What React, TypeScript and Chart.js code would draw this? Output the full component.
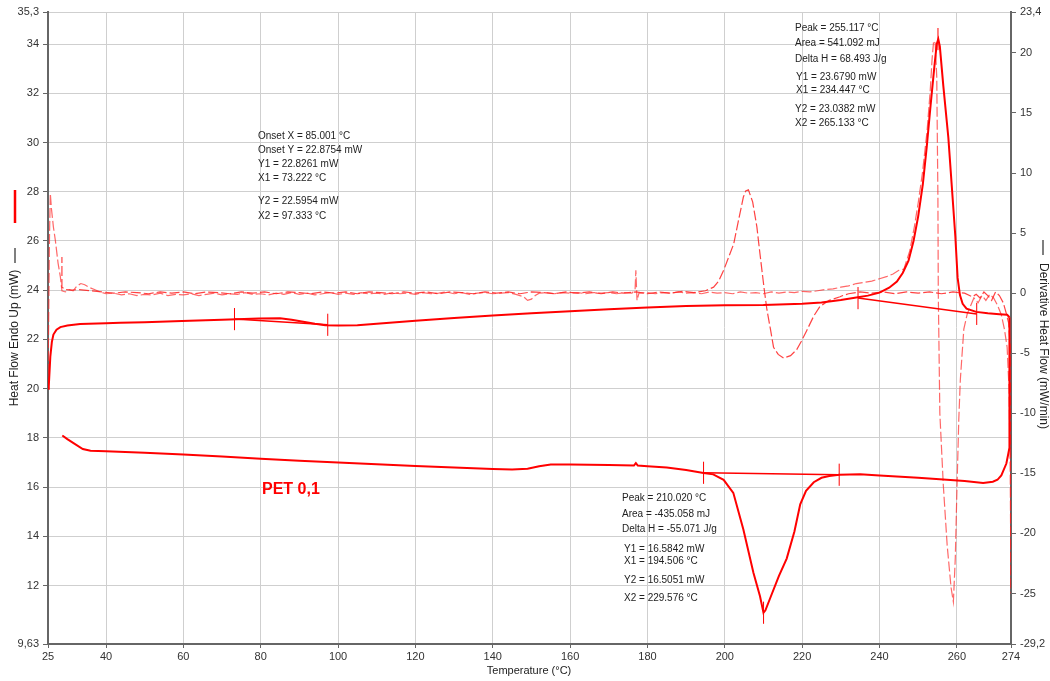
import React, { useEffect, useRef } from 'react';
import { Chart, registerables } from 'chart.js';
Chart.register(...registerables);

// ---------- axis ticks ----------
const xTicks = [25, 40, 60, 80, 100, 120, 140, 160, 180, 200, 220, 240, 260, 274];
const yLeftTicks = [9.63, 12, 14, 16, 18, 20, 22, 24, 26, 28, 30, 32, 34, 35.3];
const yRightTicks = [-29.2, -25, -20, -15, -10, -5, 0, 5, 10, 15, 20, 23.4];

// ---------- heat flow, heating (mW) ----------
const heatT = [25.0, 25.2, 25.6, 26.0, 26.4, 27.2, 28.2, 30, 33.3, 40, 43.7, 50, 59.6, 70, 79.5, 85, 88, 91, 94, 96.7, 100, 105, 110, 120, 130, 140, 150, 160, 170, 180, 190, 200, 210, 220, 225, 230, 234, 237, 240, 242.5, 244.5, 246, 247.5, 248.8, 250, 251.2, 252.2, 253.2, 254.2, 254.8, 255.2, 255.6, 256.5, 257.8, 258.7, 259.6, 260.2, 260.8, 261.5, 262.5, 265, 268, 271, 273, 273.6];
const heatMW = [20.0, 20.1, 21.3, 21.9, 22.2, 22.4, 22.5, 22.57, 22.63, 22.66, 22.68, 22.7, 22.75, 22.8, 22.85, 22.86, 22.8, 22.72, 22.64, 22.58, 22.57, 22.58, 22.64, 22.76, 22.87, 22.97, 23.06, 23.15, 23.23, 23.3, 23.36, 23.39, 23.4, 23.45, 23.5, 23.6, 23.7, 23.78, 23.9, 24.1, 24.35, 24.7, 25.2, 26.0, 27.0, 28.3, 29.8, 31.5, 33.1, 34.0, 34.2, 33.9, 32.3, 30.2, 28.2, 26.2, 24.5, 23.8, 23.45, 23.25, 23.12, 23.06, 23.02, 23.0, 22.9];

// ---------- heat flow, cooling (mW) ----------
const coolT = [273.6, 273.7, 273.5, 273.3, 272.8, 271.5, 270.5, 269.3, 266.8, 262, 256.5, 250, 240, 235, 229.6, 227, 225, 223, 221, 219.5, 218, 216, 214, 212, 210.5, 210, 209.1, 207.4, 204.8, 202.2, 199.7, 197, 194.5, 190, 185, 180, 177.5, 177, 176.5, 170, 160, 155, 152, 149, 145, 140, 130, 120, 110, 100, 90, 80, 70, 60, 50, 40, 36, 34, 32, 30, 28.7];
const coolMW = [22.9, 19.0, 17.6, 17.36, 16.96, 16.48, 16.3, 16.22, 16.17, 16.25, 16.31, 16.38, 16.47, 16.52, 16.5, 16.45, 16.38, 16.2, 15.85, 15.3, 14.2, 13.1, 12.4, 11.6, 11.0, 10.9, 11.57, 12.52, 14.28, 15.77, 16.3, 16.52, 16.58, 16.7, 16.8, 16.85, 16.88, 16.98, 16.88, 16.9, 16.92, 16.92, 16.85, 16.75, 16.72, 16.74, 16.8, 16.86, 16.93, 17.0, 17.07, 17.15, 17.25, 17.33, 17.4, 17.46, 17.48, 17.55, 17.75, 17.95, 18.1];

// ---------- derivative, heating (mW/min) ----------
const dHeatT = [25.0, 25.4, 25.6, 25.9, 26.4, 26.9, 27.6, 28.2, 28.6, 29.5, 30.5, 31.5, 32.5, 33.5, 34.5, 35.5, 37, 38.5, 40,
  42, 44, 46, 48, 50, 52, 54, 56, 58, 60, 62, 64, 66, 68, 70, 72, 74, 76, 78, 80, 82, 84, 86, 88, 90, 92, 94, 96, 98, 100,
  102, 104, 106, 108, 110, 112, 114, 116, 118, 120, 122, 124, 126, 128, 130, 132, 134, 136, 138, 140, 142, 144, 146,
  148, 149, 150, 151, 152, 154, 156, 158, 160, 162, 164, 166, 168, 170, 172, 174, 176, 176.8, 177, 177.3, 177.8,
  180, 182, 184, 186, 188, 190, 192, 194, 196, 198, 200, 202, 204, 206, 208, 210, 212, 214, 216, 218, 220, 222, 224,
  226, 228, 230, 232, 234, 236, 238, 240, 242, 243.5, 245, 246.3, 247.8, 249, 250, 251.1, 252.3, 253.1, 253.6, 254.0,
  254.4, 254.8, 255.1, 255.2, 255.6, 256.5, 257.5, 258.5, 259.1, 259.6, 260.0, 260.5, 260.9, 261.8, 262.7, 264.4,
  265.5, 266.5, 267.5, 268.5, 269.5, 270.5, 271.5, 272.3, 273.0, 273.5, 273.8, 274];
const dHeatV = [-7.8, 5.0, 8.3, 7.0, 5.5, 4.4, 2.5, 1.35, 0.2, 0.1, 0.3, 0.2, 0.6, 0.8, 0.7, 0.5, 0.3, 0.1, -0.05,
  0.0, -0.15, -0.05, -0.2, -0.1, -0.15, 0.0, -0.2, -0.1, -0.15, -0.05, -0.2, -0.1, 0.0, -0.15, -0.05, -0.1, 0.05, -0.1, -0.05, -0.15, 0.0, -0.1, 0.05, -0.1, 0.0, -0.15, -0.05, 0.05, -0.1,
  0.0, -0.1, 0.05, -0.05, 0.0, -0.1, 0.05, -0.05, 0.0, -0.1, 0.05, -0.05, 0.0, 0.1, -0.05, 0.05, -0.1, 0.0, 0.05, -0.05, 0.0, 0.05, -0.1,
  -0.3, -0.6, -0.5, -0.2, 0.0, 0.05, -0.05, 0.05, 0.0, 0.05, -0.05, 0.05, 0.0, 0.05, -0.05, 0.05, 0.0, 0.3, 1.9, -0.6, 0.0,
  0.05, -0.05, 0.05, 0.0, 0.1, 0.0, 0.05, -0.05, 0.1, 0.0, 0.05, -0.05, 0.1, 0.0, 0.05, -0.05, 0.1, 0.0, 0.1, 0.05, 0.15, 0.1, 0.2,
  0.3, 0.35, 0.5, 0.6, 0.8, 0.9, 1.0, 1.2, 1.4, 1.6, 1.9, 2.0, 3.5, 5.5, 7.5, 10.0, 13.5, 16.8, 19.5, 21.0,
  20.8, 18.0, 8.0, 0.0, -10.0, -16.0, -21.0, -24.5, -25.7, -22.0, -16.6, -10.5, -7.2, -3.0, -1.7, -0.4,
  -0.8, -0.2, -0.6, -0.1, -0.4, -1.0, -1.8, -3.0, -4.5, -8.0, -15.0, -25.0];

// ---------- derivative, cooling (mW/min) ----------
const dCoolT = [274, 273.9, 273.8, 273.4, 272.8, 272.0, 271.0, 270.0, 269.0, 268.0, 267.0, 266.0, 265.0, 264.0, 262, 259, 256, 253, 250, 247, 244, 241, 238, 235, 232, 230.5, 229.8, 227, 224.6, 223, 221.2, 219.8, 218.6, 217, 215.2, 213.8, 212.6, 211.8, 210.9, 210.2, 209.6, 208.9, 208.3, 207.2, 206.1, 205.4, 204.8, 203.5, 202.3, 201, 199.7, 198.4, 197.1, 195, 192, 189, 186, 183, 180, 177, 174, 171, 168, 165, 162, 159, 156, 153, 150, 147, 144, 141, 138, 135, 132, 129, 126, 123, 120, 117, 114, 111, 108, 105, 102, 99, 96, 93, 90, 87, 84, 81, 78, 75, 72, 69, 66, 63, 60, 57, 54, 51, 48, 45, 42, 39, 36, 33, 31, 29.5, 28.6, 28.6];
const dCoolV = [-24.5, -12, -4.5, -2.5, -1.7, -0.8, -0.2, 0.1, -0.6, -0.2, 0.1, -0.4, -0.1, -0.3, 0.0, 0.1, -0.05, 0.1, 0.0, 0.1, -0.05, 0.1, 0.0, 0.1, -0.05, -0.2, -0.3, -0.6, -1.1, -1.9, -3.1, -4.0, -4.7, -5.2, -5.4, -5.1, -4.5, -3.0, -1.4, 0.3, 1.9, 3.8, 5.5, 7.6, 8.6, 8.5, 8.0, 6.0, 4.1, 3.0, 1.9, 1.0, 0.5, 0.2, 0.05, 0.15, 0.0, 0.1, -0.05, 0.1, 0.0, 0.1, -0.05, 0.1, 0.0, 0.1, -0.05, 0.05, 0.1, -0.05, 0.1, 0.0, 0.1, -0.05, 0.05, 0.1, -0.05, 0.1, 0.0, 0.1, -0.05, 0.05, 0.1, -0.05, 0.1, 0.0, 0.1, -0.05, 0.05, 0.1, -0.05, 0.1, 0.0, 0.1, -0.05, 0.05, 0.1, -0.05, 0.1, 0.0, 0.1, -0.05, 0.05, 0.1, 0.0, 0.1, 0.2, 0.3, 0.25, 0.3, 0.5, 3.0];

// ---------- analysis baselines (mW) ----------
const glassBaseT = [73.222, 97.333];
const glassBaseY = [22.8261, 22.5954];
const meltBaseT = [234.447, 265.133];
const meltBaseY = [23.679, 23.0382];
const crystBaseT = [194.506, 229.576];
const crystBaseY = [16.5842, 16.5051];

// ---------- analysis markers (mW) ----------
const markT = [73.222, 97.333, 234.447, 265.133, 255.117, 194.506, 229.576, 210.02];
const markY = [22.8261, 22.5954, 23.679, 23.0382, 34.2, 16.5842, 16.5051, 10.9];
const markHalf = 0.45;

// ---------- annotation texts ----------
const glassText = ['Onset X = 85.001 °C', 'Onset Y = 22.8754 mW', 'Y1 = 22.8261 mW', 'X1 = 73.222 °C', 'Y2 = 22.5954 mW', 'X2 = 97.333 °C'];
const meltText = ['Peak = 255.117 °C', 'Area = 541.092 mJ', 'Delta H = 68.493 J/g', 'Y1 = 23.6790 mW', 'X1 = 234.447 °C', 'Y2 = 23.0382 mW', 'X2 = 265.133 °C'];
const crystText = ['Peak = 210.020 °C', 'Area = -435.058 mJ', 'Delta H = -55.071 J/g', 'Y1 = 16.5842 mW', 'X1 = 194.506 °C', 'Y2 = 16.5051 mW', 'X2 = 229.576 °C'];
const sampleLabel = 'PET 0,1';
const xTitle = 'Temperature (°C)';
const yLeftTitle = 'Heat Flow Endo Up (mW)';
const yRightTitle = 'Derivative Heat Flow (mW/min)';

const FONT = '"Liberation Sans", Arial, sans-serif';

function pts(xs: number[], ys: number[]) {
  return xs.map((x, i) => ({ x, y: ys[i] }));
}
function fmt(v: number) {
  return String(v).replace('.', ',');
}

const textPlugin = {
  id: 'texts',
  afterDraw(chart: any) {
    const ctx = chart.ctx;
    ctx.save();
    ctx.fillStyle = '#222';
    ctx.textBaseline = 'middle';
    ctx.textAlign = 'left';
    ctx.font = '10px ' + FONT;
    const gY = [136, 150, 164, 178, 201, 216];
    glassText.forEach((t, i) => ctx.fillText(t, 258, gY[i]));
    const mY = [28, 43, 59, 77, 90, 109, 123];
    const mX = [795, 795, 795, 796, 796, 795, 795];
    meltText.forEach((t, i) => ctx.fillText(t, mX[i], mY[i]));
    const cY = [498, 514, 529, 549, 561, 580, 598];
    const cX = [622, 622, 622, 624, 624, 624, 624];
    crystText.forEach((t, i) => ctx.fillText(t, cX[i], cY[i]));

    // sample label
    ctx.fillStyle = '#ff0000';
    ctx.font = 'bold 16px ' + FONT;
    ctx.fillText(sampleLabel, 262, 490);

    // x title
    ctx.fillStyle = '#222';
    ctx.font = '11px ' + FONT;
    ctx.textAlign = 'center';
    ctx.fillText(xTitle, 529, 671);

    // left title
    ctx.font = '12px ' + FONT;
    ctx.save();
    ctx.translate(15, 338);
    ctx.rotate(-Math.PI / 2);
    ctx.fillText(yLeftTitle, 0, 0);
    ctx.restore();
    ctx.strokeStyle = '#555';
    ctx.lineWidth = 1.5;
    ctx.beginPath();
    ctx.moveTo(15, 248);
    ctx.lineTo(15, 263);
    ctx.stroke();
    ctx.strokeStyle = '#ff0000';
    ctx.lineWidth = 2.5;
    ctx.beginPath();
    ctx.moveTo(15, 190);
    ctx.lineTo(15, 223);
    ctx.stroke();

    // right title
    ctx.save();
    ctx.translate(1043, 346);
    ctx.rotate(Math.PI / 2);
    ctx.fillText(yRightTitle, 0, 0);
    ctx.restore();
    ctx.strokeStyle = '#555';
    ctx.lineWidth = 1.5;
    ctx.beginPath();
    ctx.moveTo(1043, 240);
    ctx.lineTo(1043, 255);
    ctx.stroke();
    ctx.restore();
  },
};

export default function App() {
  const ref = useRef<HTMLCanvasElement>(null);
  useEffect(() => {
    document.body.style.margin = '0';
    const markData: any[] = [];
    markT.forEach((t, i) => {
      markData.push({ x: t, y: markY[i] - markHalf });
      markData.push({ x: t, y: markY[i] + markHalf });
      markData.push({ x: t, y: null });
    });
    const solid = { borderColor: '#ff0000', pointRadius: 0, fill: false, tension: 0, yAxisID: 'y' };
    const dashed = { pointRadius: 0, fill: false, tension: 0, yAxisID: 'y1', borderWidth: 1.2, borderDash: [10, 3] };
    const tickFont = { family: FONT, size: 11 };
    const chart = new Chart(ref.current!, {
      type: 'line',
      data: {
        datasets: [
          { ...solid, data: pts(heatT, heatMW), borderWidth: 2 },
          { ...solid, data: pts(coolT, coolMW), borderWidth: 2 },
          { ...solid, data: pts(glassBaseT, glassBaseY), borderWidth: 1.5 },
          { ...solid, data: pts(meltBaseT, meltBaseY), borderWidth: 1.5 },
          { ...solid, data: pts(crystBaseT, crystBaseY), borderWidth: 1.5 },
          { ...solid, data: markData, borderWidth: 1, spanGaps: false },
          { ...dashed, data: pts(dHeatT, dHeatV), borderColor: 'rgba(255,40,40,0.7)' },
          { ...dashed, data: pts(dCoolT, dCoolV), borderColor: 'rgba(255,20,20,0.8)' },
        ] as any,
      },
      options: {
        responsive: false,
        devicePixelRatio: 1,
        animation: false,
        layout: { padding: { top: 12, left: 0, right: 0, bottom: 0 } },
        plugins: { legend: { display: false }, tooltip: { enabled: false } },
        scales: {
          x: {
            type: 'linear',
            min: 25,
            max: 274,
            afterBuildTicks: (s: any) => { s.ticks = xTicks.map((v) => ({ value: v })); },
            afterFit: (s: any) => { s.height = 37; },
            ticks: { autoSkip: false, maxRotation: 0, font: tickFont, color: '#333', padding: 2, callback: (v: any) => fmt(v) },
            grid: {
              color: (c: any) => (c.tick && (c.tick.value === 25 || c.tick.value === 274) ? 'rgba(0,0,0,0)' : '#cfcfcf'),
              tickColor: '#666',
              tickLength: 4,
            },
            border: { color: '#666', width: 2 },
          },
          y: {
            type: 'linear',
            position: 'left',
            min: 9.63,
            max: 35.3,
            afterBuildTicks: (s: any) => { s.ticks = yLeftTicks.map((v) => ({ value: v })); },
            afterFit: (s: any) => { s.width = 48; },
            ticks: { autoSkip: false, font: tickFont, color: '#333', padding: 4, callback: (v: any) => fmt(v) },
            grid: { color: '#cfcfcf', tickColor: '#666', tickLength: 5 },
            border: { color: '#666', width: 2 },
          },
          y1: {
            type: 'linear',
            position: 'right',
            min: -29.2,
            max: 23.4,
            afterBuildTicks: (s: any) => { s.ticks = yRightTicks.map((v) => ({ value: v })); },
            afterFit: (s: any) => { s.width = 39; },
            ticks: { autoSkip: false, font: tickFont, color: '#333', padding: 4, callback: (v: any) => fmt(v) },
            grid: { drawOnChartArea: false, tickColor: '#666', tickLength: 5 },
            border: { color: '#666', width: 2 },
          },
        },
      } as any,
      plugins: [textPlugin],
    });
    return () => chart.destroy();
  }, []);
  return (
    <div style={{ position: 'absolute', left: 0, top: 0, width: 1050, height: 681, background: '#fff' }}>
      <canvas ref={ref} width={1050} height={681} style={{ width: 1050, height: 681 }} />
    </div>
  );
}
